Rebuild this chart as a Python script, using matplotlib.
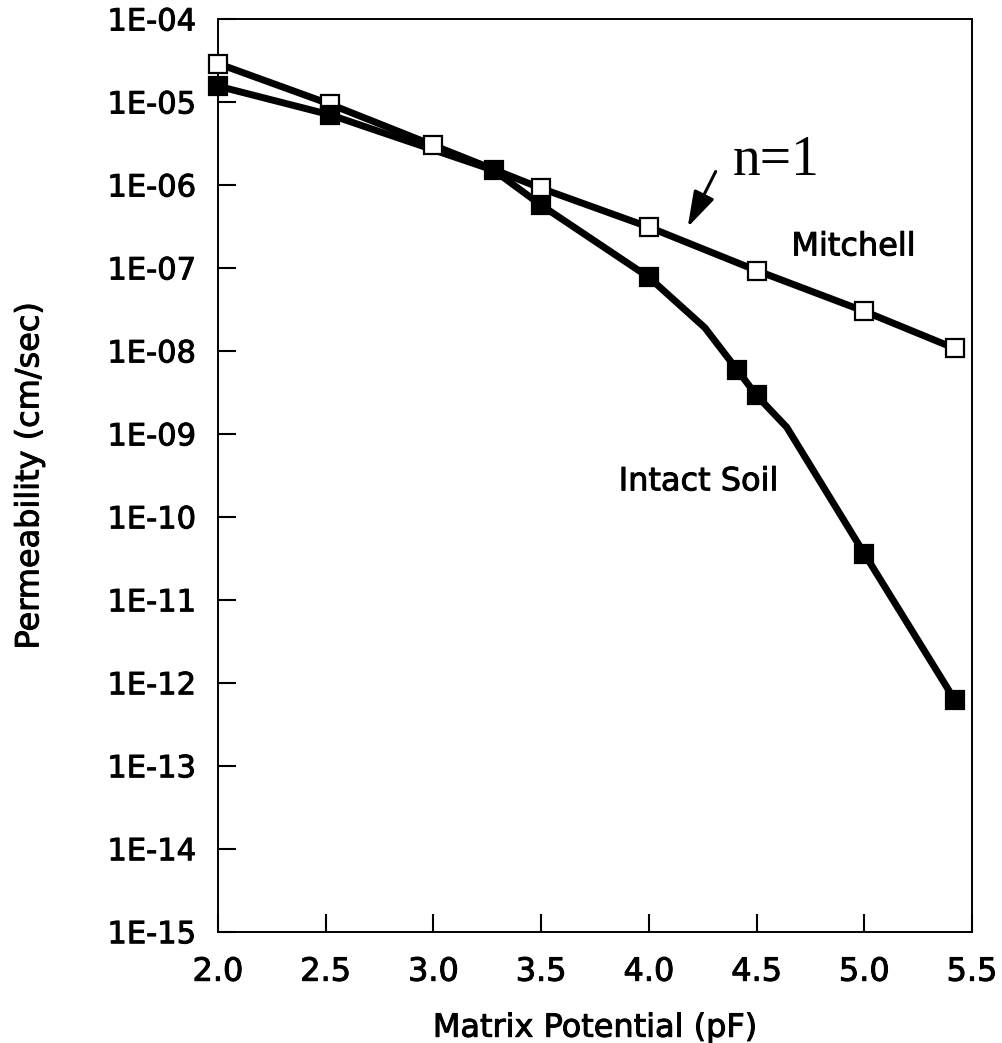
import numpy as np
import matplotlib
matplotlib.use('Agg')
import matplotlib.pyplot as plt
import matplotlib.patheffects as pe
from matplotlib.ticker import NullLocator

plt.rcParams['font.family'] = ['DejaVu Sans']

# Mitchell (open squares)
mitchell_x = [2.0, 2.52, 3.0, 3.5, 4.0, 4.5, 5.0, 5.42]
mitchell_k = [2.9e-5, 9.4e-6, 3.0e-6, 9.1e-7, 3.1e-7, 9.3e-8, 3.0e-8, 1.07e-8]

# Intact soil (filled squares)
intact_x = [2.0, 2.52, 3.28, 3.5, 4.0, 4.41, 4.5, 5.0, 5.42]
intact_k = [1.55e-5, 7.0e-6, 1.5e-6, 5.7e-7, 7.7e-8, 5.9e-9, 2.9e-9, 3.6e-11, 6.2e-13]

# intact soil curve as drawn (bends between markers)
intact_curve_x = [2.0, 2.52, 3.28, 3.5, 4.0, 4.26, 4.41, 4.5, 4.64, 5.0, 5.42]
intact_curve_k = [1.55e-5, 7.0e-6, 1.5e-6, 5.7e-7, 7.7e-8, 1.9e-8, 5.9e-9, 2.9e-9, 1.2e-9, 3.6e-11, 6.2e-13]

xticks = [2.0, 2.5, 3.0, 3.5, 4.0, 4.5, 5.0, 5.5]
xtick_labels = ['2.0', '2.5', '3.0', '3.5', '4.0', '4.5', '5.0', '5.5']
yticks = [1e-4, 1e-5, 1e-6, 1e-7, 1e-8, 1e-9, 1e-10, 1e-11, 1e-12, 1e-13, 1e-14, 1e-15]
ytick_labels = ['1E-04', '1E-05', '1E-06', '1E-07', '1E-08', '1E-09',
                '1E-10', '1E-11', '1E-12', '1E-13', '1E-14', '1E-15']

bold = [pe.withStroke(linewidth=0.7, foreground='black')]

fig = plt.figure(figsize=(10.02, 10.43), dpi=100)
ax = fig.add_axes([0.2176, 0.1067, 0.7525, 0.8751])

# lines first, markers on top
ax.plot(mitchell_x, mitchell_k, '-', color='black', lw=5, zorder=2, clip_on=False)
ax.plot(intact_curve_x, intact_curve_k, '-', color='black', lw=5, zorder=2, clip_on=False)
ax.plot(mitchell_x, mitchell_k, 's', ms=13, mfc='white', mec='black', mew=1.6,
        zorder=3, clip_on=False)
ax.plot(intact_x, intact_k, 's', ms=13, mfc='black', mec='black', mew=1.6,
        zorder=4, clip_on=False)

ax.set_yscale('log')
ax.set_xlim(2.0, 5.5)
ax.set_ylim(1e-15, 1e-4)
ax.set_xticks(xticks)
ax.set_xticklabels(xtick_labels)
ax.set_yticks(yticks)
ax.set_yticklabels(ytick_labels)
ax.yaxis.set_minor_locator(NullLocator())
ax.tick_params(axis='both', direction='in', length=13, width=1.5)
ax.tick_params(axis='y', pad=16, labelsize=22)
ax.tick_params(axis='x', pad=18, labelsize=23)
for lab in ax.get_xticklabels() + ax.get_yticklabels():
    lab.set_path_effects(bold)
for sp in ax.spines.values():
    sp.set_linewidth(1.4)

ax.set_xlabel('Matrix Potential (pF)', fontsize=23, labelpad=18, path_effects=bold)
ax.set_ylabel('Permeability (cm/sec)', fontsize=23, path_effects=bold)
ax.yaxis.set_label_coords(-0.229, 0.5)

ax.text(4.95, 1.79e-7, 'Mitchell', fontsize=23, ha='center', va='center',
        path_effects=bold)
ax.text(4.23, 2.64e-10, 'Intact Soil', fontsize=23, ha='center', va='center',
        path_effects=bold)

ax.annotate('', xy=(4.18, 3.1e-7), xytext=(4.31, 1.45e-6),
            arrowprops=dict(arrowstyle='-|>,head_length=0.55,head_width=0.17',
                            mutation_scale=40, lw=2.2, color='black',
                            shrinkA=0, shrinkB=0))
ax.text(4.39, 1.32e-6, 'n=1', fontsize=40, family=['Liberation Serif'],
        ha='left', va='baseline')

fig.savefig('out.png', dpi=100)
